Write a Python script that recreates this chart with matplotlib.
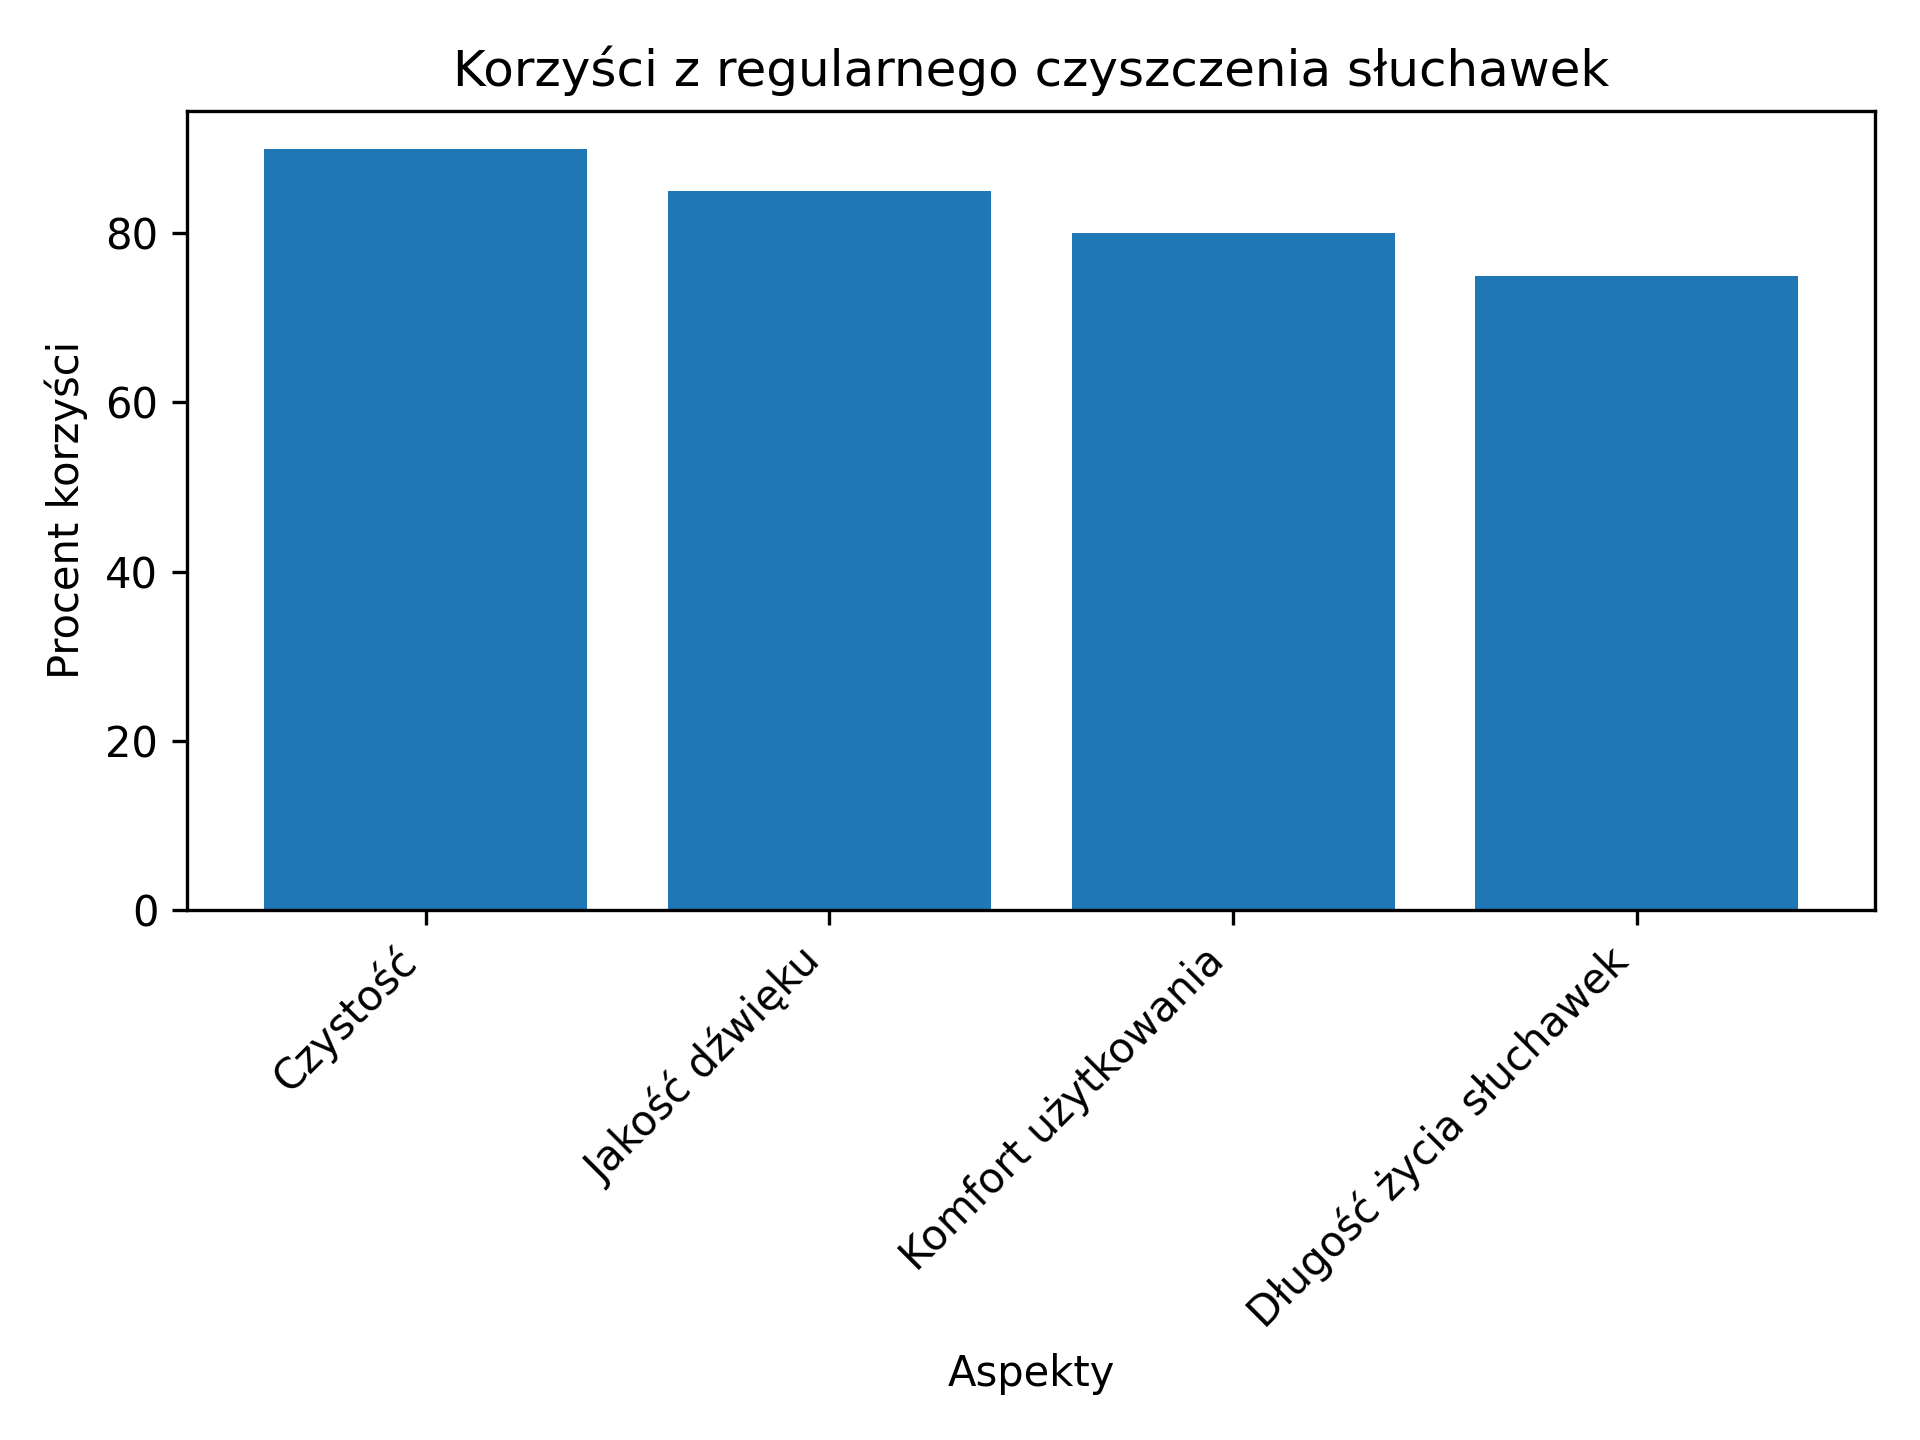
import matplotlib
matplotlib.use("Agg")
import matplotlib.pyplot as plt

categories = ["Czystość", "Jakość dźwięku", "Komfort użytkowania", "Długość życia słuchawek"]
values = [90, 85, 80, 75]

fig, ax = plt.subplots(figsize=(6.4, 4.8), dpi=300)
ax.bar(categories, values, color="#1f77b4")
ax.set_title("Korzyści z regularnego czyszczenia słuchawek")
ax.set_xlabel("Aspekty")
ax.set_ylabel("Procent korzyści")
plt.setp(ax.get_xticklabels(), rotation=45, ha="right")
fig.tight_layout()
fig.savefig("out.png")
